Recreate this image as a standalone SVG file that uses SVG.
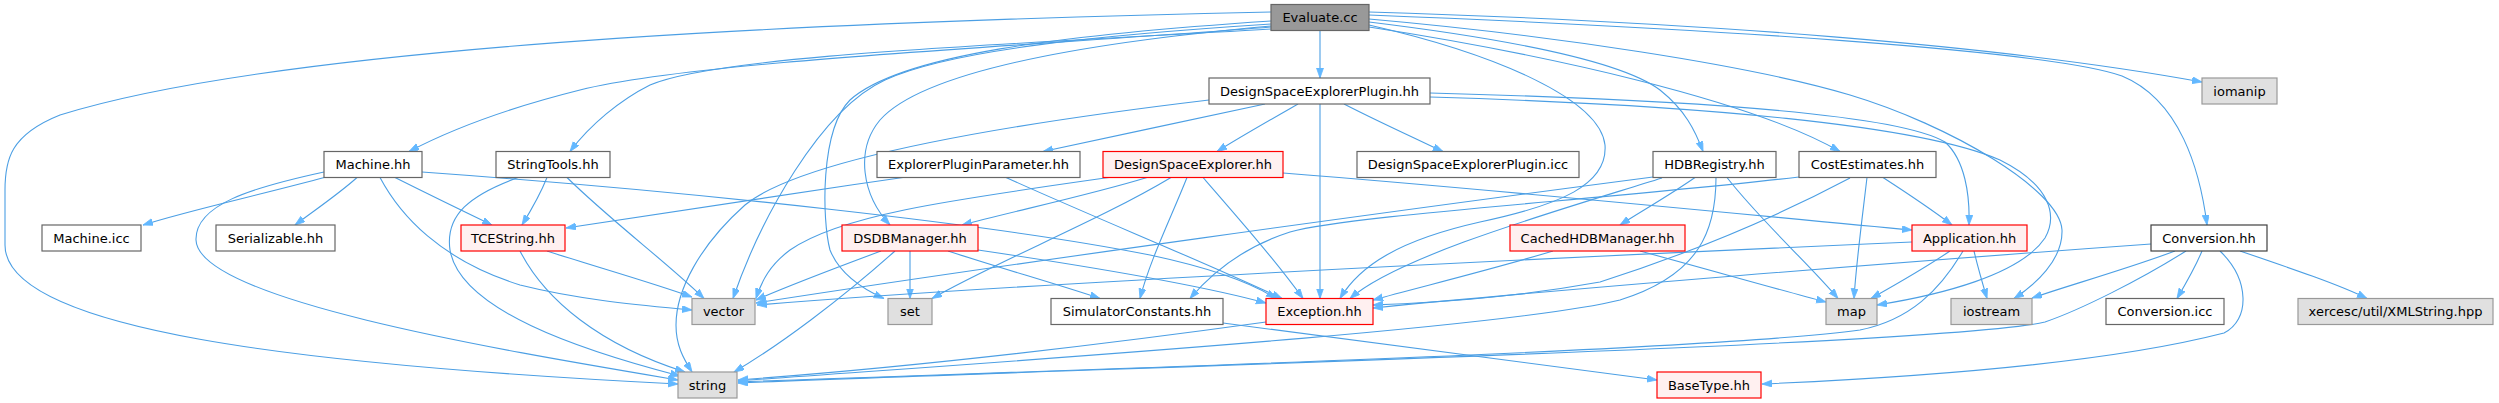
<svg xmlns="http://www.w3.org/2000/svg" width="2499" height="403" viewBox="0 0 2499 403">
<style>
rect{stroke-width:1.2}
.w{fill:#ffffff;stroke:#666666}
.k{fill:#ffffff;stroke:#404040}
.r{fill:#fff0f0;stroke:#ff0000}
.g{fill:#e0e0e0;stroke:#999999}
.e{fill:#999999;stroke:#666666}
text{font-family:"DejaVu Sans","Liberation Sans",sans-serif;font-size:13px;text-anchor:middle;fill:#000}
#edges path{fill:none;stroke:#4c9fe4;stroke-width:1.1;marker-end:url(#a)}
</style>
<defs>
<marker id="a" markerUnits="userSpaceOnUse" markerWidth="11" markerHeight="8" refX="10" refY="3.5" orient="auto" viewBox="0 0 11 8">
<path d="M0,0 L10,3.5 L0,7 z" fill="#63b8ff" stroke="#63b8ff" stroke-width="0.8"/>
</marker>
</defs>
<rect width="2499" height="403" fill="#ffffff"/>
<g id="edges">
<path d="M1320,30.5 L1320,78"/>
<path d="M1320,104 L1320,298.5"/>
<path d="M1298,104 C1270,120 1240,137 1217,151.5"/>
<path d="M1344,104 C1375,120 1412,137 1443,151.5"/>
<path d="M1265,104 C1200,118 1110,137 1043,151.5"/>
<path d="M1209,100 C1000,125 800,160 745,205 C700,245 676,290 676,325 C676,345 683,358 692,372"/>
<path d="M1430,93 C1700,100 1900,115 1945,142 C1965,160 1970,195 1969,225"/>
<path d="M1430,97 C1700,105 1920,125 2000,160 C2050,185 2058,215 2045,238 C2020,275 1940,295 1877,305"/>
<path d="M1271,27 C1050,45 700,60 580,90 C500,110 450,130 409,151.5"/>
<path d="M1271,29 C1000,45 720,55 650,85 C620,100 590,125 570,151.5"/>
<path d="M1271,12 C900,20 300,40 60,115 C10,135 5,160 5,190 L5,245 C5,330 300,365 678,384"/>
<path d="M1271,24 C1100,35 950,50 885,80 C820,110 760,220 733,298.5"/>
<path d="M1271,21 C1060,35 900,55 850,100 C820,130 822,220 830,250 C840,275 865,290 884,298.5"/>
<path d="M1271,26 C1060,45 920,75 880,120 C855,150 862,195 890,225"/>
<path d="M1369,25 C1500,55 1600,100 1605,145 C1608,185 1560,205 1480,222 C1400,240 1360,265 1340,298.5"/>
<path d="M1369,22 C1500,38 1620,60 1660,90 C1685,110 1695,130 1703,151.5"/>
<path d="M1369,27 C1550,55 1750,100 1840,151.5"/>
<path d="M1369,19 C1550,35 1750,65 1850,95 C1950,125 2060,190 2062,230 C2063,260 2035,285 2014,298.5"/>
<path d="M1369,12 C1700,22 2000,45 2202,82"/>
<path d="M1369,15 C1700,28 2050,50 2122,76 C2180,100 2200,170 2207,225"/>
<path d="M1147,177.5 C1090,195 1010,212 962,225"/>
<path d="M1109,177.5 C950,200 840,215 790,250 C770,265 762,280 756,298.5"/>
<path d="M1171,177.5 C1100,220 1000,260 932,298.5"/>
<path d="M1187,177.5 C1170,220 1150,260 1140,298.5"/>
<path d="M1203,177.5 C1240,220 1275,260 1303,298.5"/>
<path d="M1283,173 C1500,190 1750,215 1912,230"/>
<path d="M903,177.5 C780,195 650,215 566,228"/>
<path d="M1006,177.5 C1100,220 1200,260 1282,298.5"/>
<path d="M326,177 C260,195 190,210 143,225"/>
<path d="M357,177.5 C340,193 315,210 295,225"/>
<path d="M395,177.5 C430,195 465,212 492,225"/>
<path d="M324,172 C250,188 195,205 196,240 C198,300 500,350 678,380"/>
<path d="M380,177.5 C400,215 440,260 520,285 C580,300 640,305 692,310"/>
<path d="M422,172 C700,192 1000,225 1150,255 C1220,270 1255,285 1276,298.5"/>
<path d="M547,177.5 C540,195 530,212 522,225"/>
<path d="M518,177.5 C470,195 445,215 450,250 C460,310 580,350 680,376"/>
<path d="M567,177.5 C610,220 670,265 704,298.5"/>
<path d="M520,251 C545,300 600,345 685,372"/>
<path d="M547,251 C590,265 650,282 692,297"/>
<path d="M881,251 C830,270 790,285 756,300"/>
<path d="M910,251 L910,298.5"/>
<path d="M895,251 C840,300 780,345 734,372"/>
<path d="M948,251 C1000,268 1060,285 1100,298.5"/>
<path d="M978,250 C1080,265 1200,285 1266,303"/>
<path d="M1695,177.5 C1670,195 1640,212 1620,225"/>
<path d="M1727,177.5 C1760,220 1810,265 1838,298.5"/>
<path d="M1716,177.5 C1716,230 1700,275 1620,300 C1500,330 950,365 738,381"/>
<path d="M1653,177 C1400,210 1000,265 756,303"/>
<path d="M1662,178 C1560,210 1400,255 1350,298.5"/>
<path d="M1883,177.5 C1910,195 1935,212 1952,225"/>
<path d="M1867,177.5 C1862,220 1856,265 1854,298.5"/>
<path d="M1850,178 C1780,215 1700,250 1600,282 C1500,300 1420,303 1373,305"/>
<path d="M1799,177 C1600,200 1350,215 1290,232 C1240,248 1210,275 1190,298.5"/>
<path d="M1553,251 C1490,270 1420,287 1373,300"/>
<path d="M1640,251 C1710,270 1780,290 1826,302"/>
<path d="M1950,251 C1925,268 1895,285 1871,298.5"/>
<path d="M1974,251 C1978,268 1983,285 1987,298.5"/>
<path d="M1963,251 C1940,290 1910,320 1860,330 C1700,352 1000,372 738,382"/>
<path d="M1912,242 C1500,260 1000,285 757,305"/>
<path d="M2175,251 C2130,268 2070,285 2032,298"/>
<path d="M2202,251 C2195,268 2185,285 2177,298.5"/>
<path d="M2240,251 C2290,268 2340,285 2367,298.5"/>
<path d="M2186,251 C2140,280 2080,310 2045,322 C1950,345 1100,368 738,383"/>
<path d="M2220,251 C2250,280 2250,320 2224,333 C2100,365 1900,378 1762,384"/>
<path d="M2151,244 C1900,262 1550,290 1373,308"/>
<path d="M1266,322 C1100,345 900,368 738,380"/>
<path d="M1223,323 C1400,345 1550,365 1657,380"/>
</g>
<g id="n_evaluate"><rect class="e" x="1271" y="4.5" width="98" height="26"/><text x="1320" y="22">Evaluate.cc</text></g>
<g id="n_dseplugin"><rect class="w" x="1209" y="78" width="221" height="26"/><text x="1319.5" y="95.5">DesignSpaceExplorerPlugin.hh</text></g>
<g id="n_iomanip"><rect class="g" x="2202" y="78" width="75" height="26"/><text x="2239.5" y="95.5">iomanip</text></g>
<g id="n_machine"><rect class="w" x="324" y="151.5" width="98" height="26"/><text x="373" y="169">Machine.hh</text></g>
<g id="n_stringtools"><rect class="w" x="496" y="151.5" width="114" height="26"/><text x="553" y="169">StringTools.hh</text></g>
<g id="n_epp"><rect class="w" x="877" y="151.5" width="203" height="26"/><text x="978.5" y="169">ExplorerPluginParameter.hh</text></g>
<g id="n_dse"><rect class="r" x="1103" y="151.5" width="180" height="26"/><text x="1193" y="169">DesignSpaceExplorer.hh</text></g>
<g id="n_dseicc"><rect class="w" x="1357" y="151.5" width="222" height="26"/><text x="1468" y="169">DesignSpaceExplorerPlugin.icc</text></g>
<g id="n_hdbreg"><rect class="w" x="1653" y="151.5" width="123" height="26"/><text x="1714.5" y="169">HDBRegistry.hh</text></g>
<g id="n_cost"><rect class="w" x="1799" y="151.5" width="137" height="26"/><text x="1867.5" y="169">CostEstimates.hh</text></g>
<g id="n_machineicc"><rect class="w" x="42" y="225" width="99" height="26"/><text x="91.5" y="242.5">Machine.icc</text></g>
<g id="n_serial"><rect class="w" x="216" y="225" width="119" height="26"/><text x="275.5" y="242.5">Serializable.hh</text></g>
<g id="n_tcestring"><rect class="r" x="461" y="225" width="104" height="26"/><text x="513" y="242.5">TCEString.hh</text></g>
<g id="n_dsdb"><rect class="r" x="842" y="225" width="136" height="26"/><text x="910" y="242.5">DSDBManager.hh</text></g>
<g id="n_cachedhdb"><rect class="r" x="1510" y="225" width="175" height="26"/><text x="1597.5" y="242.5">CachedHDBManager.hh</text></g>
<g id="n_app"><rect class="r" x="1912" y="225" width="115" height="26"/><text x="1969.5" y="242.5">Application.hh</text></g>
<g id="n_conv"><rect class="k" x="2151" y="225" width="116" height="26"/><text x="2209" y="242.5">Conversion.hh</text></g>
<g id="n_vector"><rect class="g" x="692" y="298.5" width="63" height="26"/><text x="723.5" y="316">vector</text></g>
<g id="n_set"><rect class="g" x="888" y="298.5" width="44" height="26"/><text x="910" y="316">set</text></g>
<g id="n_simconst"><rect class="w" x="1051" y="298.5" width="172" height="26"/><text x="1137" y="316">SimulatorConstants.hh</text></g>
<g id="n_exception"><rect class="r" x="1266" y="298.5" width="107" height="26"/><text x="1319.5" y="316">Exception.hh</text></g>
<g id="n_map"><rect class="g" x="1826" y="298.5" width="51" height="26"/><text x="1851.5" y="316">map</text></g>
<g id="n_iostream"><rect class="g" x="1951" y="298.5" width="81" height="26"/><text x="1991.5" y="316">iostream</text></g>
<g id="n_convicc"><rect class="w" x="2106" y="298.5" width="118" height="26"/><text x="2165" y="316">Conversion.icc</text></g>
<g id="n_xerces"><rect class="g" x="2298" y="298.5" width="195" height="26"/><text x="2395.5" y="316">xercesc/util/XMLString.hpp</text></g>
<g id="n_string"><rect class="g" x="678" y="372" width="59" height="26"/><text x="707.5" y="389.5">string</text></g>
<g id="n_basetype"><rect class="r" x="1657" y="372" width="104" height="26"/><text x="1709" y="389.5">BaseType.hh</text></g>
</svg>
